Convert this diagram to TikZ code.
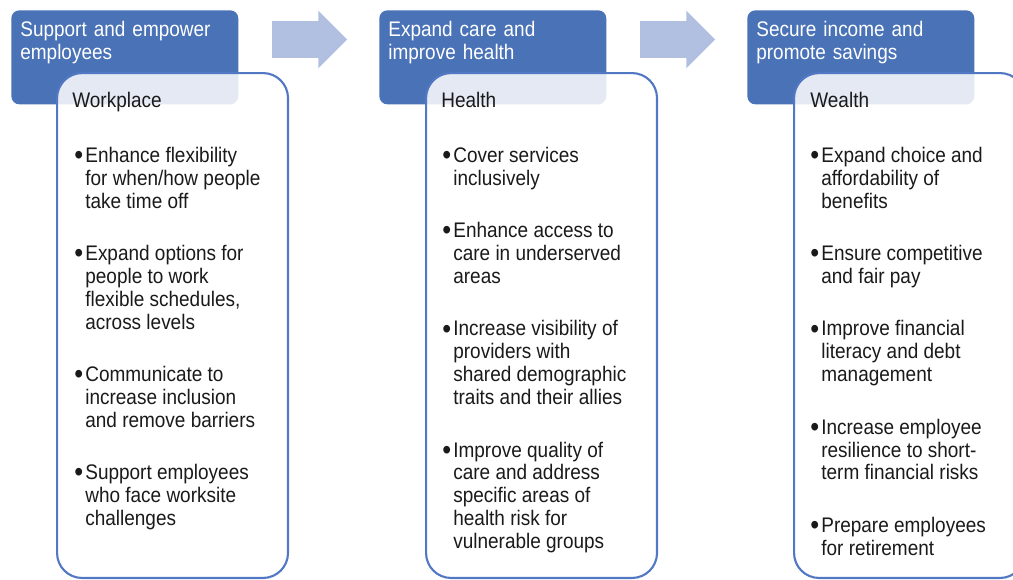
\documentclass[tikz,border=0pt]{standalone}
\usepackage{fontspec}
\setmainfont[FakeStretch=0.9]{Liberation Sans}
\usetikzlibrary{positioning, shapes.arrows}
\definecolor{navy}{RGB}{74,114,183}
\definecolor{edge}{RGB}{82,120,196}
\definecolor{flow}{RGB}{177,191,224}
\definecolor{ink}{RGB}{26,26,26}

% hanging bullet item
\newcommand{\bpoint}[1]{\makebox[0.22cm][l]{\raisebox{-1.2pt}{\fontsize{16}{13}\selectfont\textbullet}}%
  \parbox[t]{3.8cm}{\raggedright\strut #1\strut}}

\begin{document}
\begin{tikzpicture}[
      x=0.02cm, y=-0.02cm,
      head/.style={rectangle, rounded corners=0.16cm, fill=navy, inner sep=0,
                   minimum width=4.54cm, minimum height=1.88cm, anchor=north west},
      title/.style={anchor=north west, inner sep=0, text width=4.3cm, align=left,
                    text=white, font=\fontsize{12}{13.6}\selectfont},
      card/.style={rectangle, rounded corners=0.5cm, draw=edge, line width=1.2pt,
                   fill=white, fill opacity=0.85, inner sep=0,
                   minimum width=4.62cm, minimum height=10.1cm, anchor=north west},
      topic/.style={anchor=north west, inner sep=0, text=ink,
                    font=\fontsize{12}{13}\selectfont},
      point/.style={anchor=north west, inner sep=0, text=ink,
                    font=\fontsize{12}{13}\selectfont},
      nextpt/.style={below=0.58cm of #1.south west, anchor=north west},
      flowarr/.style={single arrow, fill=flow, inner xsep=0, inner ysep=0.36cm,
                      minimum height=1.5cm, single arrow head extend=0.21cm}
    ]
    \useasboundingbox (0,0) rectangle (1013,579);

    % headers
    \node[head] (hd1) at (11,10) {};
    \node[head] (hd2) at (379,10) {};
    \node[head] (hd3) at (747,10) {};
    \node[title] (ti1) at (20,19) {\strut Support and empower\\employees\strut};
    \node[title] (ti2) at (388,19) {\strut Expand care and\\improve health\strut};
    \node[title] (ti3) at (756,19) {\strut Secure income and\\promote savings\strut};

    % arrows between headers
    \node[flowarr] (ar1) at (300.5,39.5) {};
    \node[flowarr] (ar2) at (668.5,39.5) {};

    % cards
    \node[card] (cd1) at (56,72) {};
    \node[card] (cd2) at (425,72) {};
    \node[card] (cd3) at (793,72) {};

    % Workplace
    \node[topic] (tp1) at (72,91) {\strut Workplace};
    \node[point] (wp1) at (74,146) {\bpoint{Enhance flexibility\\for when/how people\\take time off}};
    \node[point, nextpt=wp1] (wp2) {\bpoint{Expand options for\\people to work\\flexible schedules,\\across levels}};
    \node[point, nextpt=wp2] (wp3) {\bpoint{Communicate to\\increase inclusion\\and remove barriers}};
    \node[point, nextpt=wp3] (wp4) {\bpoint{Support employees\\who face worksite\\challenges}};

    % Health
    \node[topic] (tp2) at (441,91) {\strut Health};
    \node[point] (hl1) at (442,146) {\bpoint{Cover services\\inclusively}};
    \node[point, nextpt=hl1] (hl2) {\bpoint{Enhance access to\\care in underserved\\areas}};
    \node[point, nextpt=hl2] (hl3) {\bpoint{Increase visibility of\\providers with\\shared demographic\\traits and their allies}};
    \node[point, nextpt=hl3] (hl4) {\bpoint{Improve quality of\\care and address\\specific areas of\\health risk for\\vulnerable groups}};

    % Wealth
    \node[topic] (tp3) at (810,91) {\strut Wealth};
    \node[point] (wl1) at (810,146) {\bpoint{Expand choice and\\affordability of\\benefits}};
    \node[point, nextpt=wl1] (wl2) {\bpoint{Ensure competitive\\and fair pay}};
    \node[point, nextpt=wl2] (wl3) {\bpoint{Improve financial\\literacy and debt\\management}};
    \node[point, nextpt=wl3] (wl4) {\bpoint{Increase employee\\resilience to short-\\term financial risks}};
    \node[point, nextpt=wl4] (wl5) {\bpoint{Prepare employees\\for retirement}};
  \end{tikzpicture}
\end{document}
